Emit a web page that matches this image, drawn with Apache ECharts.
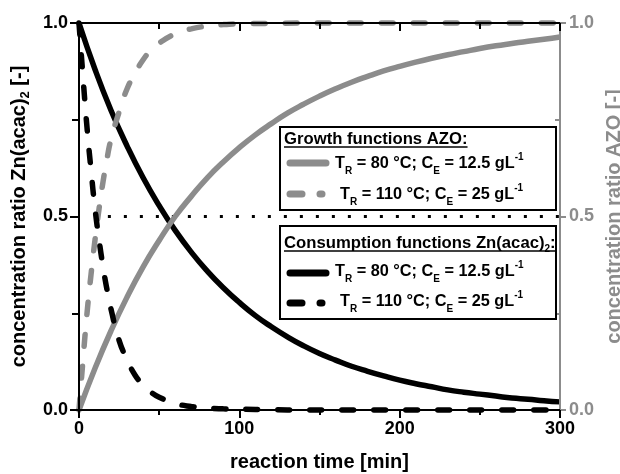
<!DOCTYPE html>
<html><head><meta charset="utf-8">
<script src="https://cdn.jsdelivr.net/npm/echarts@6/dist/echarts.min.js"></script>
<style>html,body{margin:0;padding:0;background:#fff}#c{width:620px;height:474px}</style>
</head><body><div id="c"></div>
<script>
const FONT = "'Liberation Sans', Arial, sans-serif";
const GRAY = '#8c8c8c';

// ---- data ----
const slowTimes = [0,10,20,30,40,50,60,70,80,90,100,110,120,130,140,150,160,170,180,190,200,210,220,230,240,250,260,270,280,290,300];
const consumption80 = [1.000,0.880,0.774,0.682,0.600,0.528,0.464,0.408,0.359,0.316,0.278,0.244,0.215,0.189,0.166,0.146,0.129,0.113,0.100,0.088,0.077,0.068,0.060,0.052,0.046,0.041,0.036,0.031,0.028,0.024,0.021];
const growth80 = [0.000,0.108,0.205,0.292,0.370,0.438,0.500,0.552,0.600,0.641,0.678,0.711,0.740,0.767,0.790,0.811,0.830,0.847,0.862,0.876,0.888,0.899,0.909,0.918,0.926,0.934,0.941,0.947,0.953,0.958,0.964];
const fastTimes = [0,2.5,5,7.5,10,12.5,15,17.5,20,25,30,35,40,45,50,60,70,80,90,100,120,140,160,180,200,220,240,260,280,300];
const growth110 = [0,0.13,0.25,0.35,0.44,0.52,0.59,0.65,0.70,0.77,0.83,0.87,0.905,0.93,0.948,0.972,0.985,0.992,0.996,0.998,0.999,1,1,1,1,1,1,1,1,1];
const consumption110 = [1.0,0.86,0.73,0.62,0.52,0.44,0.37,0.31,0.26,0.18,0.13,0.09,0.065,0.046,0.033,0.017,0.009,0.005,0.003,0.002,0.001,0,0,0,0,0,0,0,0,0];
const refTimes = [18,300];
const refLevel = [0.5,0.5];

const growthTitle = 'Growth functions AZO:';
const consTitleMain = 'Consumption functions Zn(acac)';
const row80 = '{m|T}{s|R}{m| = 80 °C; C}{s|E}{m| = 12.5 gL}{p|-1}';
const row110 = '{m|T}{s|R}{m| = 110 °C; C}{s|E}{m| = 25 gL}{p|-1}';

const zip = (xs, ys) => xs.map((x, i) => [x, ys[i]]);

const TITLE_FS = 16.7;
const ctx = document.createElement('canvas').getContext('2d');
ctx.font = 'bold ' + TITLE_FS + 'px ' + FONT;
const wGrowth = ctx.measureText(growthTitle).width;
const wConsA = ctx.measureText(consTitleMain).width;
const wColon = ctx.measureText(':').width;
ctx.font = 'bold 10px ' + FONT;
const wSub2 = ctx.measureText('2').width;
const wCons = wConsA + wSub2 + wColon;

const rowRich = {
  m: {fontSize: 16.3, fontWeight: 'bold', fontFamily: FONT, lineHeight: 24, fill: '#000'},
  s: {fontSize: 10, fontWeight: 'bold', fontFamily: FONT, lineHeight: 10, verticalAlign: 'bottom', fill: '#000'},
  p: {fontSize: 10, fontWeight: 'bold', fontFamily: FONT, lineHeight: 14, verticalAlign: 'top', fill: '#000'}
};

function box(x, y, w, h) {
  return {type: 'rect', z: 100, shape: {x: x, y: y, width: w, height: h},
    style: {fill: '#fff', stroke: '#000', lineWidth: 2}};
}
function title(x, y, text) {
  return {type: 'text', z: 101, x: x, y: y, style: {text: text, rich: {
      t: {fontSize: TITLE_FS, fontWeight: 'bold', fontFamily: FONT, lineHeight: 22, fill: '#000'},
      s: {fontSize: 10, fontWeight: 'bold', fontFamily: FONT, lineHeight: 10, verticalAlign: 'bottom', fill: '#000'}
    }, align: 'left', verticalAlign: 'middle'}};
}
function uline(x1, x2, y) {
  return {type: 'line', z: 101, shape: {x1: x1, y1: y, x2: x2, y2: y}, style: {stroke: '#000', lineWidth: 1.5}};
}
function rowText(x, y, text) {
  return {type: 'text', z: 101, x: x, y: y, style: {text: text, rich: rowRich, align: 'left', verticalAlign: 'middle'}};
}
function solidSample(y, color) {
  return {type: 'line', z: 101, shape: {x1: 290, y1: y, x2: 326, y2: y},
    style: {stroke: color, lineWidth: 7, lineCap: 'round'}};
}
function dashSample(y, color) {
  return [
    {type: 'line', z: 101, shape: {x1: 290, y1: y, x2: 302, y2: y}, style: {stroke: color, lineWidth: 7, lineCap: 'round'}},
    {type: 'line', z: 101, shape: {x1: 320, y1: y, x2: 322, y2: y}, style: {stroke: color, lineWidth: 7, lineCap: 'round'}}
  ];
}

const graphics = [
  box(280, 127, 276, 83),
  title(284, 139, '{t|' + growthTitle + '}'),
  uline(284, 284 + wGrowth, 147),
  solidSample(163, GRAY),
  rowText(335, 164, row80),
  ...dashSample(194, GRAY),
  rowText(340, 195, row110),
  box(280, 226, 276, 93),
  title(284, 243, '{t|' + consTitleMain + '}{s|2}{t|:}'),
  uline(284, 284 + wCons, 251),
  solidSample(273, '#000'),
  rowText(335, 272, row80),
  ...dashSample(303, '#000'),
  rowText(340, 302, row110)
];

const lineDash = [12, 20];
const gridBox = {left: 79, right: 60, top: 23, bottom: 64, containLabel: false, outerBoundsMode: 'none'};
const chart = echarts.init(document.getElementById('c'), null, {renderer: 'canvas'});
chart.setOption({
  animation: false,
  backgroundColor: '#fff',
  grid: [Object.assign({}, gridBox), Object.assign({}, gridBox)],
  xAxis: [{
    type: 'value', gridIndex: 0, min: 0, max: 300, interval: 100, position: 'bottom', z: 10,
    name: 'reaction time [min]', nameLocation: 'middle', nameGap: 42,
    nameTextStyle: {fontSize: 20, fontWeight: 'bold', fontFamily: FONT, color: '#000'},
    axisLine: {show: true, onZero: false, lineStyle: {color: '#000', width: 2}},
    axisTick: {show: true, inside: false, length: 8, lineStyle: {color: '#000', width: 2}},
    minorTick: {show: true, splitNumber: 2, length: 5, lineStyle: {color: '#000', width: 2}},
    axisLabel: {fontSize: 18, fontWeight: 'bold', fontFamily: FONT, color: '#000', margin: 10},
    splitLine: {show: false}, minorSplitLine: {show: false}
  }, {
    type: 'value', gridIndex: 0, min: 0, max: 300, interval: 100, position: 'top', z: 10,
    axisLine: {show: true, onZero: false, lineStyle: {color: '#000', width: 2}},
    axisTick: {show: true, inside: true, length: 8, lineStyle: {color: '#000', width: 2}},
    minorTick: {show: true, splitNumber: 2, length: 6, lineStyle: {color: '#000', width: 2}},
    axisLabel: {show: false}, splitLine: {show: false}
  }, {
    type: 'value', gridIndex: 1, min: 0, max: 300, show: false
  }],
  yAxis: [{
    type: 'value', gridIndex: 0, min: 0, max: 1, interval: 0.5, position: 'left', z: 10,
    name: 'concentration ratio Zn(acac){s|2} [-]', nameLocation: 'middle', nameGap: 44, nameRotate: 90,
    nameTextStyle: {fontSize: 20, fontWeight: 'bold', fontFamily: FONT, color: '#000', lineHeight: 26,
      rich: {s: {fontSize: 13, fontWeight: 'bold', fontFamily: FONT, color: '#000', lineHeight: 12, verticalAlign: 'bottom'}}},
    axisLine: {show: true, onZero: false, lineStyle: {color: '#000', width: 2}},
    axisTick: {show: true, inside: false, length: 9, lineStyle: {color: '#000', width: 2}},
    minorTick: {show: true, splitNumber: 2, length: 7, lineStyle: {color: '#000', width: 2}},
    axisLabel: {fontSize: 18, fontWeight: 'bold', fontFamily: FONT, color: '#000', margin: 11,
      formatter: v => v.toFixed(1)},
    splitLine: {show: false}
  }, {
    type: 'value', gridIndex: 0, min: 0, max: 1, interval: 0.5, position: 'right', z: 10,
    name: 'concentration ratio AZO [-]', nameLocation: 'middle', nameGap: 30, nameRotate: 90,
    nameTextStyle: {fontSize: 20, fontWeight: 'bold', fontFamily: FONT, color: GRAY},
    axisLine: {show: true, onZero: false, lineStyle: {color: GRAY, width: 2}},
    axisTick: {show: true, inside: false, length: 6, lineStyle: {color: GRAY, width: 2}},
    minorTick: {show: false},
    axisLabel: {fontSize: 18, fontWeight: 'bold', fontFamily: FONT, color: GRAY, margin: 9,
      formatter: v => v.toFixed(1)},
    splitLine: {show: false}
  }, {
    type: 'value', gridIndex: 1, min: 0, max: 1, interval: 0.5, position: 'right', z: 10,
    axisLine: {show: false, onZero: false},
    axisTick: {show: false, inside: true},
    minorTick: {show: true, splitNumber: 2, length: 5, lineStyle: {color: GRAY, width: 2}},
    axisLabel: {show: false},
    splitLine: {show: false}
  }],
  series: [
    {type: 'line', name: 'ref', data: zip(refTimes, refLevel), showSymbol: false, silent: true,
      lineStyle: {color: '#000', width: 3, type: [3, 13], cap: 'butt'}, z: 1},
    {type: 'line', name: 'cons80', data: zip(slowTimes, consumption80), showSymbol: false, smooth: 0.5, clip: false,
      lineStyle: {color: '#000', width: 5.5}, z: 2},
    {type: 'line', name: 'grow80', yAxisIndex: 1, data: zip(slowTimes, growth80), showSymbol: false, smooth: 0.5, clip: false,
      lineStyle: {color: GRAY, width: 5.5}, z: 3},
    {type: 'line', name: 'grow110', yAxisIndex: 1, data: zip(fastTimes, growth110), showSymbol: false, smooth: 0.5, clip: false,
      lineStyle: {color: GRAY, width: 5.5, type: lineDash, cap: 'round'}, z: 4},
    {type: 'line', name: 'cons110', data: zip(fastTimes, consumption110), showSymbol: false, smooth: 0.5, clip: false,
      lineStyle: {color: '#000', width: 5.5, type: lineDash, cap: 'round'}, z: 5}
  ],
  graphic: graphics
});
</script></body></html>
